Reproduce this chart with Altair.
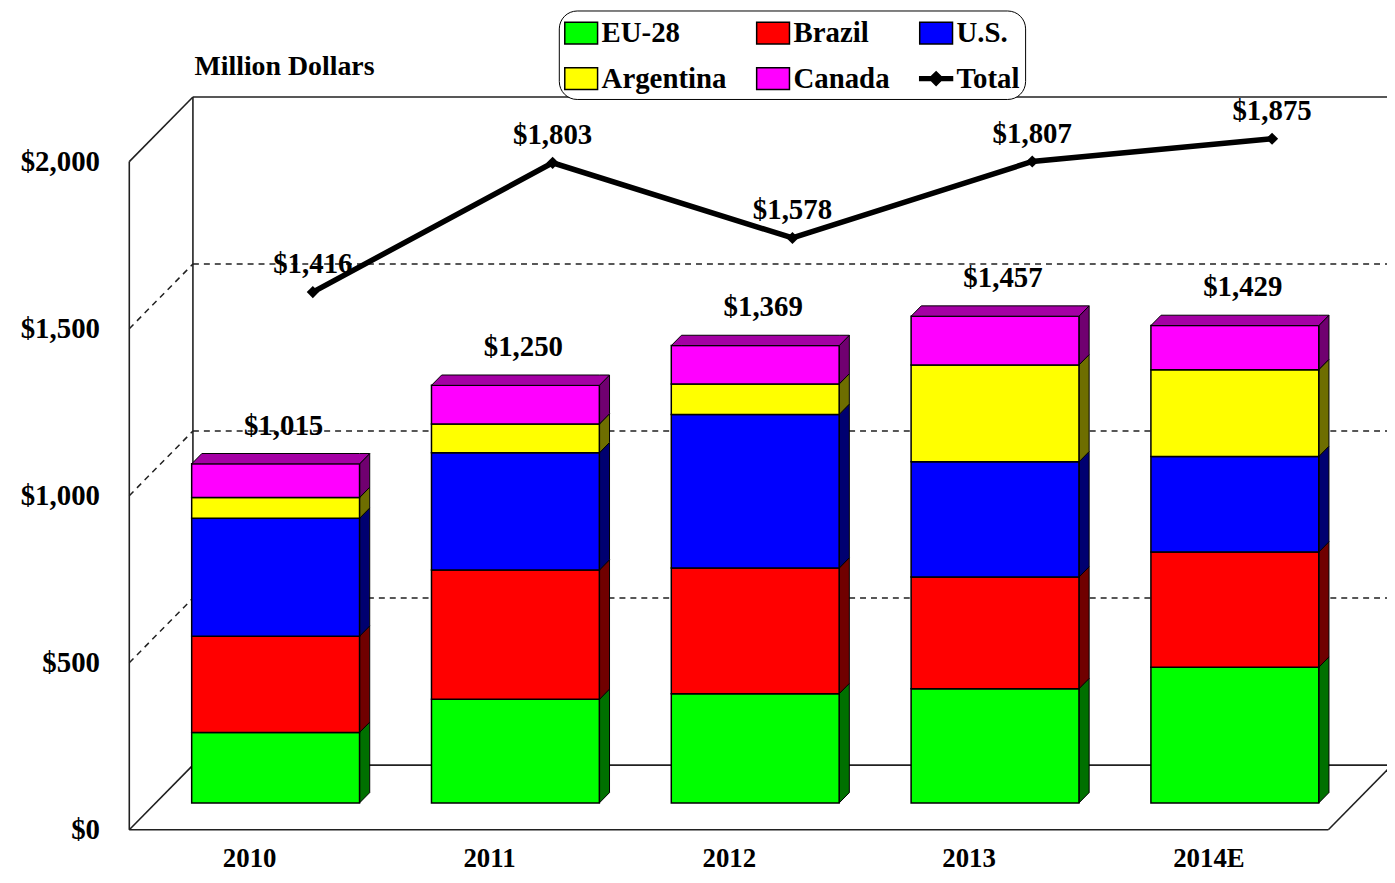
import altair as alt
import pandas as pd

# ---------------- data ----------------
categories = ["2010", "2011", "2012", "2013", "2014E"]
series = ["EU-28", "Brazil", "U.S.", "Argentina", "Canada"]
eu28 = [211, 310, 327, 342, 406]
brazil = [288, 387, 376, 334, 345]
us = [353, 351, 460, 345, 286]
argentina = [62, 86, 91, 290, 260]
canada = [101, 116, 115, 146, 132]
bar_totals = [1015, 1250, 1369, 1457, 1429]
total_values = [1416, 1803, 1578, 1807, 1875]
tick_values = [0, 500, 1000, 1500, 2000]
total_name = "Total"

# ---------------- styles ----------------
front_colors = {"EU-28": "#00ff00", "Brazil": "#ff0000", "U.S.": "#0000ff",
                "Argentina": "#ffff00", "Canada": "#ff00ff"}
side_colors = {"EU-28": "#007000", "Brazil": "#700000", "U.S.": "#000070",
               "Argentina": "#6e6e00", "Canada": "#700070"}
top_color = "#a400a4"
FONT = "Liberation Serif"
FS = 29

W, H = 1265, 824
PXY = 0.336            # pixels per value unit
UNIT_X = 241.2         # pixels per category
XMAX = W / UNIT_X
YMAX = H / PXY
DX = 64 / UNIT_X       # depth shift (front -> back wall)
DY = 65 / PXY
BAR_DEPTH = 0.415
BAR_THICK = 0.16
BAR_W = 0.7

values_by_series = [eu28, brazil, us, argentina, canada]

# ---------------- tables built from the arrays ----------------
front_rows, face_rows, top_rows = [], [], []
bx = BAR_DEPTH * DX
by = BAR_DEPTH * DY
tdx = BAR_THICK * DX
tdy = BAR_THICK * DY
for i, cat in enumerate(categories):
    c = i + 0.5 + bx
    xl, xr = c - BAR_W / 2, c + BAR_W / 2
    base = 0
    for s, vals in zip(series, values_by_series):
        top = base + vals[i]
        front_rows.append({"x": xl, "x2": xr, "y": base + by, "y2": top + by,
                           "hex": front_colors[s], "series": s, "cat": cat})
        fid = f"{cat}-{s}"
        face_rows.append({"face": fid, "x": xr, "y": top + by, "y2": base + by, "hex": side_colors[s]})
        face_rows.append({"face": fid, "x": xr + tdx, "y": top + by + tdy, "y2": base + by + tdy,
                          "hex": side_colors[s]})
        base = top
    T = base + by
    fid = f"{cat}-top"
    for xx, up, lo in [(xl, T, T), (xl + tdx, T + tdy, T), (xr, T + tdy, T), (xr + tdx, T + tdy, T + tdy)]:
        top_rows.append({"face": fid, "x": xx, "y": up, "y2": lo, "hex": top_color})

front_df = pd.DataFrame(front_rows)
side_df = pd.DataFrame(face_rows)
top_df = pd.DataFrame(top_rows)

bar_label_df = pd.DataFrame({
    "x": [i + 0.5 + bx + tdx / 2 + 0.012 for i in range(len(categories))],
    "y": [t + by + tdy for t in bar_totals],
    "v": bar_totals,
})
line_df = pd.DataFrame({
    "x": [i + 0.5 + DX for i in range(len(categories))],
    "y": [t + DY for t in total_values],
    "v": total_values,
})

lo_v, hi_v = tick_values[0], tick_values[-1]
n = len(categories)
solid = [
    (0, lo_v, 0, hi_v), (0, hi_v, DX, hi_v + DY), (DX, lo_v + DY, DX, hi_v + DY),
    (DX, hi_v + DY, XMAX, hi_v + DY), (0, lo_v, n, lo_v), (0, lo_v, DX, lo_v + DY),
    (DX, lo_v + DY, XMAX, lo_v + DY), (n, lo_v, n + DX, lo_v + DY),
]
dashed = []
for v in tick_values[1:-1]:
    dashed.append((0, v, DX, v + DY))
    dashed.append((DX, v + DY, XMAX, v + DY))
solid_df = pd.DataFrame(solid, columns=["x", "y", "x2", "y2"])
dashed_df = pd.DataFrame(dashed, columns=["x", "y", "x2", "y2"])

legend_names = series + [total_name]
legend_colors = [front_colors[s] for s in series] + ["black"]
rect_path = "M-1,-0.667H1V0.667H-1Z"
total_path = "M-1,-0.12H1V0.12H-1ZM0,-0.42L0.42,0L0,0.42L-0.42,0Z"
legend_shapes = [rect_path] * len(series) + [total_path]
legend_df = pd.DataFrame({"series": legend_names})

# ---------------- scales / axes ----------------
xs = alt.Scale(domain=[0, XMAX], nice=False, zero=False)
ys = alt.Scale(domain=[0, YMAX], nice=False, zero=False)
label_expr = "[" + ",".join(f"'{c}'" for c in categories) + "][floor(datum.value)]"
xaxis = alt.Axis(values=[i + 0.5 for i in range(n)], labelExpr=label_expr, domain=False,
                 ticks=False, tickSize=0, grid=False, labelPadding=16, labelFont=FONT,
                 labelFontSize=27, labelFontWeight="bold", labelColor="black", title=None)
yaxis = alt.Axis(values=tick_values, format="$,.0f", domain=False, ticks=False, tickSize=0,
                 grid=False, labelPadding=30, labelFont=FONT, labelFontSize=FS,
                 labelFontWeight="bold", labelColor="black", title="Million Dollars",
                 titleAngle=0, titleAlign="left", titleBaseline="middle", titleX=65, titleY=56,
                 titleFont=FONT, titleFontSize=28, titleFontWeight="bold", titleColor="black")


def X(f="x"):
    return alt.X(f"{f}:Q", scale=xs, axis=xaxis)


def Y(f="y"):
    return alt.Y(f"{f}:Q", scale=ys, axis=yaxis)


solid_l = alt.Chart(solid_df).mark_rule(color="#202020", strokeWidth=1.6).encode(
    x=X(), y=Y(), x2="x2:Q", y2="y2:Q")
dashed_l = alt.Chart(dashed_df).mark_rule(color="#202020", strokeWidth=1.5, strokeDash=[6, 5]).encode(
    x=X(), y=Y(), x2="x2:Q", y2="y2:Q")

sides = alt.Chart(side_df).mark_area(stroke="black", strokeWidth=1, interpolate="linear").encode(
    x=X(), y=Y(), y2="y2:Q", detail="face:N", fill=alt.Fill("hex:N", scale=None))
tops = alt.Chart(top_df).mark_area(stroke="black", strokeWidth=1, interpolate="linear").encode(
    x=X(), y=Y(), y2="y2:Q", detail="face:N", fill=alt.Fill("hex:N", scale=None))
fronts = alt.Chart(front_df).mark_rect(stroke="black", strokeWidth=1.5).encode(
    x=X(), x2="x2:Q", y=Y(), y2="y2:Q", fill=alt.Fill("hex:N", scale=None))

bar_labels = alt.Chart(bar_label_df).mark_text(
    font=FONT, fontSize=FS, fontWeight="bold", color="black", baseline="middle", dy=-28).encode(
    x=X(), y=Y(), text=alt.Text("v:Q", format="$,.0f"))

line = alt.Chart(line_df).mark_line(color="black", strokeWidth=5.5).encode(x=X(), y=Y())
pts = alt.Chart(line_df).mark_point(shape="diamond", filled=True, color="black", size=150,
                                    opacity=1).encode(x=X(), y=Y())
line_labels = alt.Chart(line_df).mark_text(
    font=FONT, fontSize=FS, fontWeight="bold", color="black", baseline="middle", dy=-28).encode(
    x=X(), y=Y(), text=alt.Text("v:Q", format="$,.0f"))

leg = alt.Legend(title=None, orient="none", legendX=432, legendY=0, columns=3,
                 direction="horizontal",
                 columnPadding=27, rowPadding=13, padding=5, strokeColor="black",
                 cornerRadius=18, fillColor="white", labelFont=FONT, labelFontWeight="bold",
                 labelFontSize=FS, labelColor="black", labelOffset=3, labelLimit=400,
                 symbolSize=1089, symbolStrokeColor="black", symbolStrokeWidth=1.5,
                 symbolOpacity=1)
legend_layer = alt.Chart(legend_df).transform_filter("false").mark_point(
    filled=True, opacity=1, stroke="black", strokeWidth=1.5).encode(
    fill=alt.Fill("series:N", scale=alt.Scale(domain=legend_names, range=legend_colors), legend=leg),
    shape=alt.Shape("series:N", scale=alt.Scale(domain=legend_names, range=legend_shapes), legend=leg),
)

chart = alt.layer(
    dashed_l, solid_l, sides, fronts, tops, bar_labels, line, pts, line_labels, legend_layer
).properties(
    width=W, height=H,
    autosize=alt.AutoSizeParams(type="none"),
    padding={"left": 122, "top": 0, "right": 0, "bottom": 43},
    background="white",
).configure_view(stroke=None)

chart.save("out.html", embed_options={"renderer": "svg", "actions": False})
